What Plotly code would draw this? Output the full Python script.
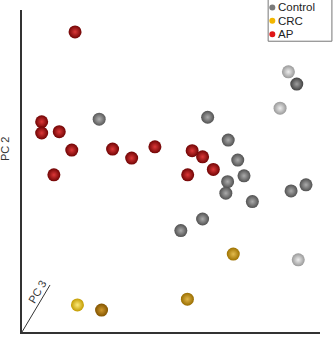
import plotly.graph_objects as go

# PCA scores (arbitrary units)
ap_pc1 = [17.8, 6.6, 6.6, 12.5, 16.7, 10.7, 30.4, 36.8, 44.6, 57.1, 60.6, 64.2, 55.6]
ap_pc2 = [93.2, 65.3, 61.8, 62.2, 56.5, 48.8, 56.8, 54.0, 57.5, 56.3, 54.4, 50.5, 48.8]
ap_depth = [0.5, 0.5, 0.5, 0.5, 0.5, 0.5, 0.5, 0.5, 0.5, 0.5, 0.5, 0.5, 0.5]

ctrl_pc1 = [25.9, 62.3, 69.2, 72.4, 74.5, 69.0, 68.4, 77.3, 90.3, 95.3, 60.6, 53.3, 89.4, 92.2, 86.6, 92.7]
ctrl_pc2 = [66.1, 66.7, 59.6, 53.4, 48.5, 46.7, 43.1, 40.5, 43.8, 45.7, 35.1, 31.5, 80.8, 77.0, 69.5, 22.4]
ctrl_depth = [0.5, 0.45, 0.45, 0.45, 0.45, 0.45, 0.45, 0.45, 0.45, 0.45, 0.45, 0.45, 0.95, 0.35, 0.95, 0.95]

crc_pc1 = [70.9, 55.5, 18.6, 26.7]
crc_pc2 = [24.2, 10.2, 8.4, 6.8]
crc_depth = [0.55, 0.5, 0.95, 0.25]

groups = ["Control", "CRC", "AP"]
legend_colors = ["#7a7a7a", "#f2b600", "#e01515"]


def shade(depth, dark_edge, light_edge, dark_center, light_center):
    def mix(a, b, t):
        a = [int(a[i:i + 2], 16) for i in (1, 3, 5)]
        b = [int(b[i:i + 2], 16) for i in (1, 3, 5)]
        return "rgb(%d,%d,%d)" % tuple(round(a[k] + (b[k] - a[k]) * t) for k in range(3))
    edges = [mix(dark_edge, light_edge, d) for d in depth]
    centers = [mix(dark_center, light_center, d) for d in depth]
    return edges, centers


fig = go.Figure()
MS = 13

ce, cc = shade(ctrl_depth, "#101010", "#a0a0a0", "#707070", "#f4f4f4")
fig.add_trace(go.Scatter(x=ctrl_pc1, y=ctrl_pc2, mode="markers", showlegend=False,
                         marker=dict(size=MS, color=ce, line=dict(width=0),
                                     gradient=dict(type="radial", color=cc))))
re_, rc = shade(ap_depth, "#500000", "#900808", "#c82020", "#f05050")
fig.add_trace(go.Scatter(x=ap_pc1, y=ap_pc2, mode="markers", showlegend=False,
                         marker=dict(size=MS, color=re_, line=dict(width=0),
                                     gradient=dict(type="radial", color=rc))))
oe, oc = shade(crc_depth, "#6a3a00", "#c8a000", "#c07a10", "#fff080")
fig.add_trace(go.Scatter(x=crc_pc1, y=crc_pc2, mode="markers", showlegend=False,
                         marker=dict(size=MS, color=oe, line=dict(width=0),
                                     gradient=dict(type="radial", color=oc))))

# legend drawn manually (box, dots, labels)
fig.add_shape(type="rect", xref="paper", yref="paper",
              x0=0.826, x1=1.04, y0=0.903, y1=1.04,
              line=dict(color="#777777", width=1), fillcolor="white", layer="above")
leg_y = [1.008, 0.967, 0.925]
for g, c, yy in zip(groups, legend_colors, leg_y):
    fig.add_shape(type="circle", xref="paper", yref="paper",
                  xsizemode="pixel", ysizemode="pixel", xanchor=0.84, yanchor=yy,
                  x0=-3, x1=3, y0=-3, y1=3,
                  fillcolor=c, line=dict(width=0), layer="above")
    fig.add_annotation(text=g, xref="paper", yref="paper", x=0.852, y=yy,
                       xanchor="left", yanchor="middle", showarrow=False,
                       font=dict(size=11.5, color="#222222"))

fig.add_shape(type="line", xref="paper", yref="paper", x0=0, y0=0, x1=0.094, y1=0.146,
              line=dict(color="#333333", width=1))
fig.add_annotation(text="PC 3", xref="paper", yref="paper", x=0.05, y=0.125,
                   xanchor="center", yanchor="middle",
                   showarrow=False, textangle=-59, font=dict(size=11, color="#333333"))
fig.add_annotation(text="PC 2", xref="paper", yref="paper", x=-0.057, y=0.568,
                   xanchor="center", yanchor="middle",
                   showarrow=False, textangle=-90, font=dict(size=11, color="#333333"))

fig.update_layout(
    width=335, height=343,
    margin=dict(l=22, r=15, t=10, b=11),
    paper_bgcolor="white", plot_bgcolor="white",
    showlegend=False,
    font=dict(family="Liberation Sans, Arial, sans-serif", color="#222222"),
    xaxis=dict(range=[0, 100], showgrid=False, zeroline=False, showticklabels=False,
               ticks="", showline=True, linecolor="#333333", linewidth=1.5),
    yaxis=dict(range=[0, 100], showgrid=False, zeroline=False, showticklabels=False,
               ticks="", showline=True, linecolor="#333333", linewidth=1.5),
)

fig.write_html("out.html")
